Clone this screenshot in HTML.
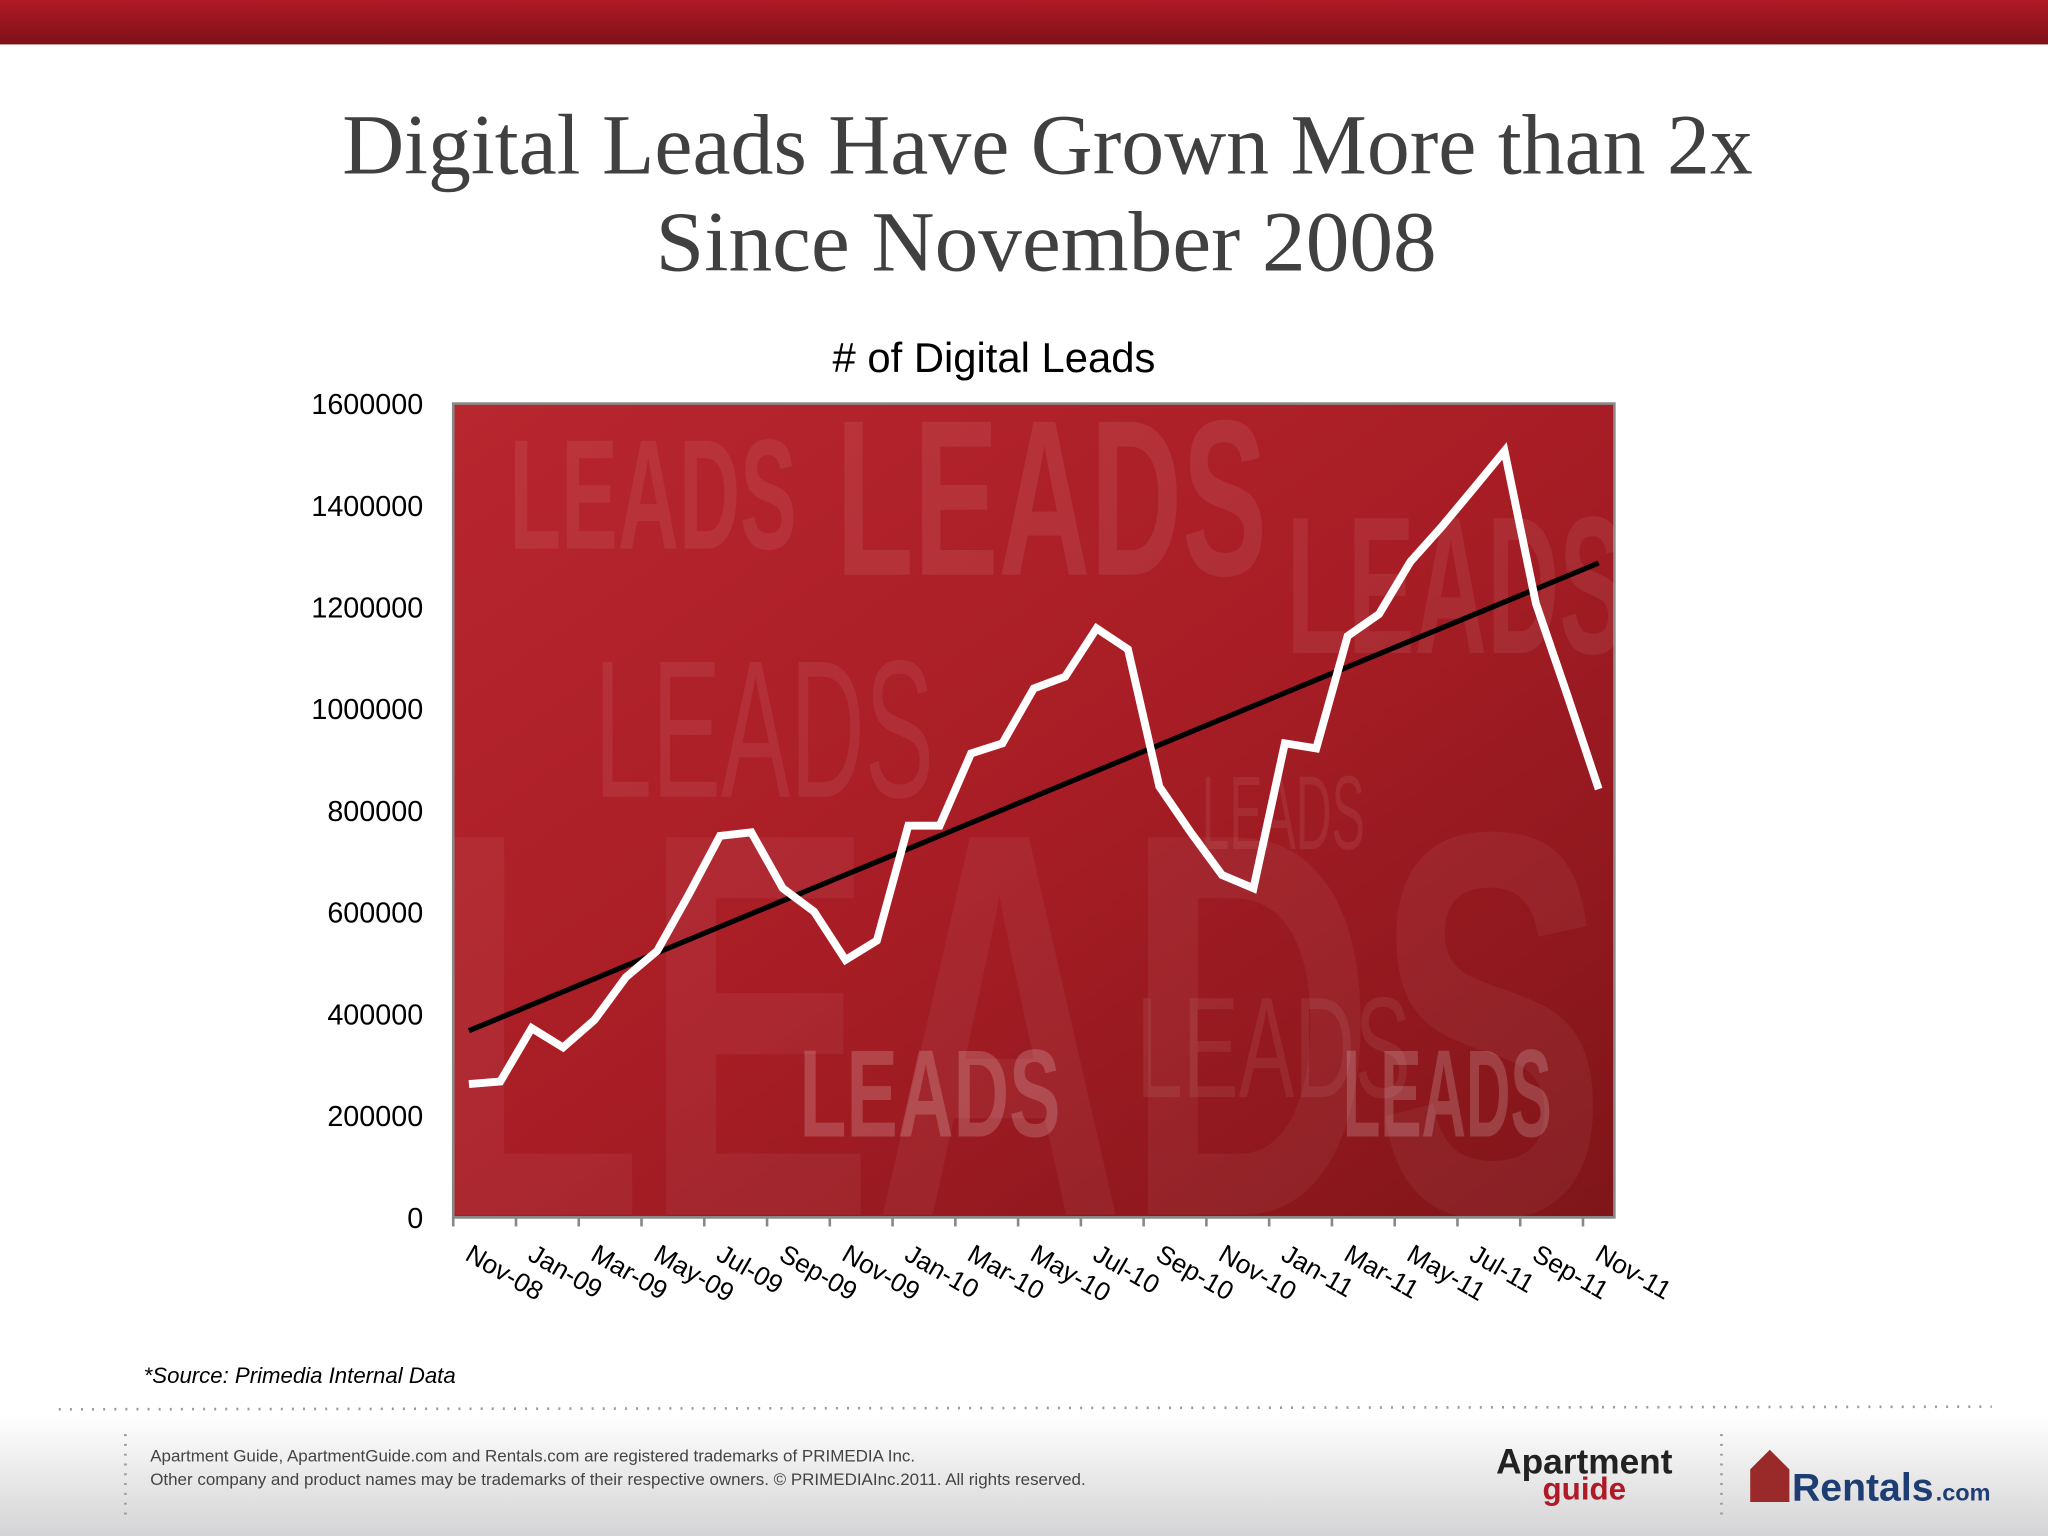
<!DOCTYPE html>
<html><head><meta charset="utf-8"><style>
html,body{margin:0;padding:0;width:2048px;height:1536px;overflow:hidden;background:#fff}
svg{display:block}
</style></head><body>
<svg id="s" width="2048" height="1536" viewBox="0 0 1568 1176" xmlns="http://www.w3.org/2000/svg">
<defs>
<linearGradient id="hdr" x1="0" y1="0" x2="0" y2="1"><stop offset="0" stop-color="#b01a26"/><stop offset="1" stop-color="#7e1019"/></linearGradient>
<linearGradient id="plotbg" x1="0" y1="0" x2="1" y2="1"><stop offset="0" stop-color="#b8262e"/><stop offset="0.5" stop-color="#a81d25"/><stop offset="1" stop-color="#7f1519"/></linearGradient>
<linearGradient id="ftr" x1="0" y1="0" x2="0" y2="1"><stop offset="0" stop-color="#ffffff"/><stop offset="1" stop-color="#d4d4d6"/></linearGradient>
<clipPath id="pc"><rect x="347" y="309" width="889" height="623"/></clipPath>
</defs>
<rect x="0" y="0" width="1568" height="34" fill="url(#hdr)"/>
<g font-family="Liberation Serif, serif" font-size="66" fill="#404040" text-anchor="middle">
<text x="802" y="133" textLength="1080" lengthAdjust="spacingAndGlyphs">Digital Leads Have Grown More than 2x</text>
<text x="801" y="207" textLength="598" lengthAdjust="spacingAndGlyphs">Since November 2008</text>
</g>
<text x="761" y="285" font-family="Liberation Sans, sans-serif" font-size="32" text-anchor="middle" fill="#000"># of Digital Leads</text>
<rect x="347" y="309" width="889" height="623" fill="url(#plotbg)" stroke="#888" stroke-width="2"/>
<g clip-path="url(#pc)" font-family="Liberation Sans, sans-serif" font-weight="bold" fill="#ffffff">
<text x="390" y="420" font-size="120" fill-opacity="0.07" textLength="220" lengthAdjust="spacingAndGlyphs">LEADS</text>
<text x="640" y="440" font-size="170" fill-opacity="0.08" textLength="330" lengthAdjust="spacingAndGlyphs">LEADS</text>
<text x="455" y="610" font-size="150" font-weight="normal" fill-opacity="0.07" textLength="260" lengthAdjust="spacingAndGlyphs">LEADS</text>
<text x="330" y="930" font-size="420" fill-opacity="0.05" textLength="900" lengthAdjust="spacingAndGlyphs">LEADS</text>
<text x="612" y="870" font-size="95" fill-opacity="0.18" textLength="200" lengthAdjust="spacingAndGlyphs">LEADS</text>
<text x="1028" y="870" font-size="95" fill-opacity="0.18" textLength="160" lengthAdjust="spacingAndGlyphs">LEADS</text>
<text x="985" y="500" font-size="150" fill-opacity="0.07" textLength="260" lengthAdjust="spacingAndGlyphs">LEADS</text>
<text x="920" y="650" font-size="80" font-weight="normal" fill-opacity="0.07" textLength="125" lengthAdjust="spacingAndGlyphs">LEADS</text>
<text x="870" y="840" font-size="110" font-weight="normal" fill-opacity="0.07" textLength="210" lengthAdjust="spacingAndGlyphs">LEADS</text>
</g>
<g id="axes"></g>
<g id="marks"></g>
<text x="110" y="1059" font-family="Liberation Sans, sans-serif" font-style="italic" font-size="17" fill="#000">*Source:  Primedia Internal Data</text>
<rect x="0" y="1083" width="1568" height="93" fill="url(#ftr)"/>
<line x1="45" y1="1079" x2="1525" y2="1077" stroke="#999" stroke-width="2" stroke-dasharray="1.5 7"/>
<line x1="96" y1="1098" x2="96" y2="1162" stroke="#999" stroke-width="2" stroke-dasharray="1.5 6"/>
<line x1="1318" y1="1098" x2="1318" y2="1162" stroke="#999" stroke-width="2" stroke-dasharray="1.5 6"/>
<g font-family="Liberation Sans, sans-serif" font-size="13" fill="#444">
<text x="115" y="1119">Apartment Guide, ApartmentGuide.com and Rentals.com are registered trademarks of PRIMEDIA Inc.</text>
<text x="115" y="1137">Other company and product names may be trademarks of their respective owners. © PRIMEDIAInc.2011. All rights reserved.</text>
</g>
<g font-family="Liberation Sans, sans-serif" font-weight="bold">
<text x="1213" y="1128" font-size="27" text-anchor="middle" fill="#222">Apartment</text>
<text x="1213" y="1148" font-size="24" text-anchor="middle" fill="#b01a26">guide</text>
</g>
<g font-family="Liberation Sans, sans-serif" font-weight="bold">
<path d="M1340 1150 L1340 1125 L1355 1110 L1370 1125 L1370 1150 Z" fill="#9a2a2a"/>
<text x="1372" y="1149" font-size="30" fill="#1e3d73">Rentals</text>
<text x="1482" y="1149" font-size="18" fill="#1e3d73">.com</text>
</g>
</svg>
<script>
const categories=["Nov-08","Dec-08","Jan-09","Feb-09","Mar-09","Apr-09","May-09","Jun-09","Jul-09","Aug-09","Sep-09","Oct-09","Nov-09","Dec-09","Jan-10","Feb-10","Mar-10","Apr-10","May-10","Jun-10","Jul-10","Aug-10","Sep-10","Oct-10","Nov-10","Dec-10","Jan-11","Feb-11","Mar-11","Apr-11","May-11","Jun-11","Jul-11","Aug-11","Sep-11","Oct-11","Nov-11"];
const leads=[262000,267000,372000,334000,388000,472000,524000,634000,750000,757000,647000,601000,506000,544000,770000,770000,912000,932000,1040000,1063000,1158000,1117000,847000,757000,673000,647000,932000,922000,1143000,1186000,1289000,1358000,1432000,1507000,1207000,1027000,842000];
const yTicks=[0,200000,400000,600000,800000,1000000,1200000,1400000,1600000];
const NS="http://www.w3.org/2000/svg";
const X0=347,X1=1236,Y0=932,Y1=309,YMAX=1600000;
const step=(X1-X0)/categories.length;
function xs(i){return X0+step*(i+0.5);}
function ys(v){return Y0-(v/YMAX)*(Y0-Y1);}
function mk(tag,attrs,parent){const e=document.createElementNS(NS,tag);for(const k in attrs)e.setAttribute(k,attrs[k]);parent.appendChild(e);return e;}
const axes=document.getElementById('axes'),marks=document.getElementById('marks');
yTicks.forEach(v=>{
  const t=mk('text',{x:324,y:ys(v)+8,'text-anchor':'end','font-family':'Liberation Sans, sans-serif','font-size':22,fill:'#000'},axes);
  
  
  t.textContent=v;
});
const xa=mk('line',{x1:X0,y1:Y0,x2:X1,y2:Y0,stroke:'#888','stroke-width':2},axes);


for(let i=0;i<=categories.length;i+=2){
  const x=X0+step*i;
  const tk=mk('line',{x1:x,y1:Y0,x2:x,y2:Y0+7,stroke:'#888','stroke-width':2},axes);
  
  
}
categories.forEach((c,i)=>{
  if(i%2)return;
  const x=xs(i)-4;
  const t=mk('text',{x:x,y:Y0+32,transform:`rotate(30 ${x} ${Y0+32})`,'font-family':'Liberation Sans, sans-serif','font-size':20,fill:'#000'},axes);
  
  
  t.textContent=c;
});
const n=leads.length;let sx=0,sy=0,sxy=0,sxx=0;
leads.forEach((v,i)=>{sx+=i;sy+=v;sxy+=i*v;sxx+=i*i;});
const b=(n*sxy-sx*sy)/(n*sxx-sx*sx),a=(sy-b*sx)/n;
const tl=mk('line',{x1:xs(0),y1:ys(a),x2:xs(n-1),y2:ys(a+b*(n-1)),stroke:'#000','stroke-width':4},marks);


const pl=mk('polyline',{points:leads.map((v,i)=>xs(i)+','+ys(v)).join(' '),fill:'none',stroke:'#fff','stroke-width':6,'stroke-linejoin':'miter'},marks);


</script>
</body></html>
